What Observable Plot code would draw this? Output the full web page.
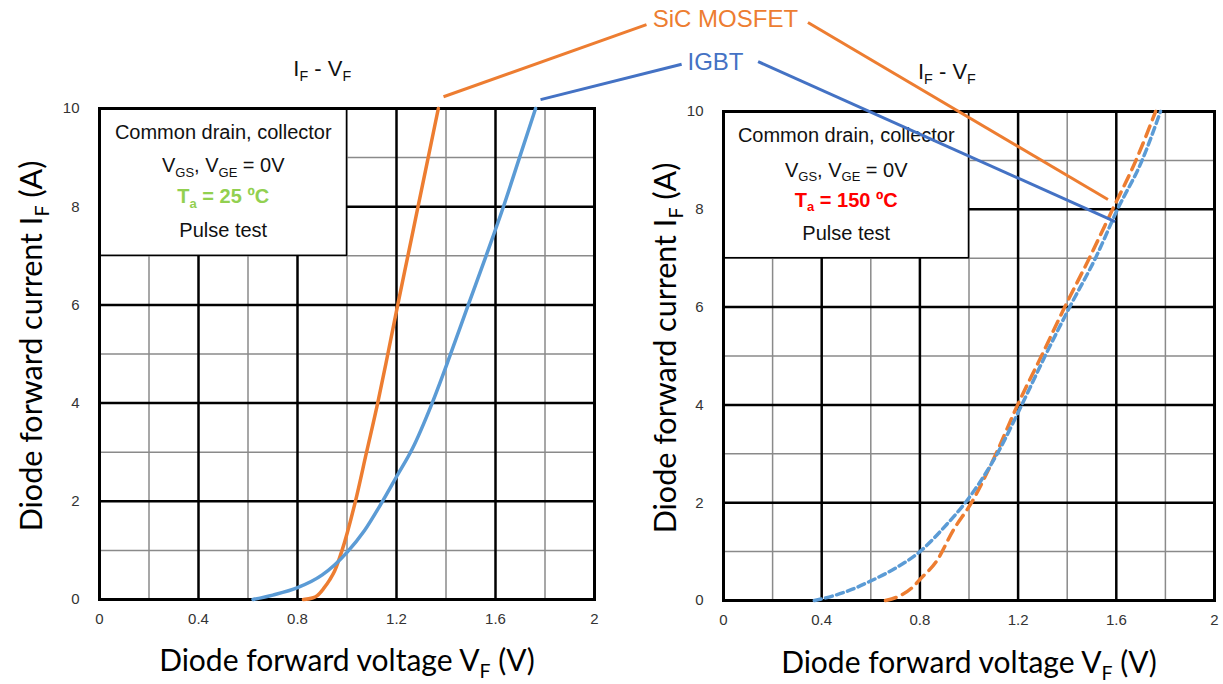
<!DOCTYPE html>
<html>
<head>
<meta charset="utf-8">
<script src="https://cdn.jsdelivr.net/npm/d3@7"></script>
<script src="https://cdn.jsdelivr.net/npm/@observablehq/plot@0.6"></script>
<style>
  body { margin: 0; background: #fff; }
  #wrap { position: relative; width: 1223px; height: 684px; overflow: hidden; background: #fff; }
  #wrap svg { position: absolute; top: 0; }
</style>
</head>
<body>
<div id="wrap"></div>
<script>
// ---------------- data ----------------
const xTicks = [0, 0.4, 0.8, 1.2, 1.6, 2];
const yTicks = [0, 2, 4, 6, 8, 10];
const majorX = [0.4, 0.8, 1.2, 1.6];
const minorX = [0.2, 0.6, 1.0, 1.4, 1.8];
const majorY = [2, 4, 6, 8];
const minorY = [1, 3, 5, 7, 9];

// Ta = 25 ºC
const vfSic25  = [0.824, 0.86, 0.88, 0.905, 0.93, 0.95, 0.98, 1.034, 1.079, 1.124, 1.165, 1.205, 1.246, 1.287, 1.328, 1.369];
const ifSic25  = [0, 0.03, 0.08, 0.22, 0.4, 0.58, 1.0, 2, 3, 4, 5, 6, 7, 8, 9, 10];
const vfIgbt25 = [0.62, 0.7, 0.8, 0.9, 1.0, 1.07, 1.14, 1.2, 1.265, 1.34, 1.415, 1.49, 1.562, 1.632, 1.697, 1.762];
const ifIgbt25 = [0, 0.09, 0.24, 0.5, 0.96, 1.4, 1.97, 2.5, 3.08, 3.95, 4.95, 6, 7, 8, 9, 10];

// Ta = 150 ºC
const vfSic150  = [0.66, 0.72, 0.77, 0.8, 0.87, 0.935, 1.01, 1.11, 1.198, 1.295, 1.39, 1.49, 1.585, 1.68, 1.76];
const ifSic150  = [0, 0.1, 0.27, 0.43, 0.82, 1.43, 2, 3, 4, 5, 6, 7, 8, 9, 10];
const vfIgbt150 = [0.37, 0.45, 0.52, 0.6, 0.7, 0.8, 0.91, 0.985, 1.115, 1.215, 1.31, 1.41, 1.515, 1.605, 1.705, 1.78];
const ifIgbt150 = [0, 0.1, 0.22, 0.4, 0.66, 1.0, 1.56, 2, 3, 4, 5, 6, 7, 8, 9, 10];

// texts
const titleText = "I_{F} - V_{F}";
const xLabel = "Diode forward voltage V_{F} (V)";
const yLabel = "Diode forward current I_{F} (A)";
const noteLines = ["Common drain, collector", "V_{GS}, V_{GE} = 0V", "Pulse test"];
const temp25 = "T_{a} = 25 ºC";
const temp150 = "T_{a} = 150 ºC";
const seriesNames = ["SiC MOSFET", "IGBT"];

// ---------------- styles / layout ----------------
const ORANGE = "#ED7D31", BLUE = "#5B9BD5", CALL_BLUE = "#4472C4";
const ARIAL = "'Liberation Sans', Arial, sans-serif";
const TITLEFONT = "Lato, 'Open Sans', sans-serif";

const toRows = (vs, is) => vs.map((v, k) => ({v, i: is[k]}));

function panel(cfg) {
  const marks = [
    Plot.ruleX(minorX, {stroke: "#8a8a8a", strokeWidth: 1.5}),
    Plot.ruleY(minorY, {stroke: "#8a8a8a", strokeWidth: 1.5}),
    Plot.ruleX(majorX, {stroke: "#000", strokeWidth: 2.5}),
    Plot.ruleY(majorY, {stroke: "#000", strokeWidth: 2.5}),
    Plot.rect([cfg.box], {x1: "x1", x2: "x2", y1: "y1", y2: "y2", fill: "white", stroke: "#000", strokeWidth: 1.5}),
    Plot.frame({stroke: "#000", strokeWidth: 3}),
    Plot.line(cfg.sic, {x: "v", y: "i", stroke: ORANGE, strokeWidth: 3.5, curve: "monotone-x", strokeDasharray: cfg.dashSic}),
    Plot.line(cfg.igbt, {x: "v", y: "i", stroke: BLUE, strokeWidth: 3.5, curve: "monotone-x", strokeDasharray: cfg.dashIgbt}),
    Plot.text(noteLines, {x: cfg.noteX, y: (d, k) => cfg.noteY[k], text: d => d, fontSize: 20, fontFamily: ARIAL, fill: "#111"}),
    Plot.text([cfg.temp], {x: cfg.noteX, y: cfg.tempY, text: d => d, fontSize: 20, fontFamily: ARIAL, fontWeight: "bold", fill: cfg.tempColor}),
    Plot.text([titleText], {x: cfg.titleX, y: cfg.titleY, text: d => d, fontSize: 22, fontFamily: ARIAL, fill: "#111"}),
    Plot.text([xLabel], {frameAnchor: "bottom", dy: cfg.xLabelDy, text: d => d, fontSize: 30, fontFamily: TITLEFONT, fill: "#000", textAnchor: "middle", lineAnchor: "middle"}),
    Plot.text([yLabel], {frameAnchor: "left", rotate: -90, dx: cfg.yLabelDx, dy: -8, text: d => d, fontSize: 30.5, fontFamily: TITLEFONT, fill: "#000", textAnchor: "middle", lineAnchor: "middle"}),
    Plot.link(cfg.callouts, {x1: "x1", y1: "y1", x2: "x2", y2: "y2", stroke: "c", strokeWidth: 3, clip: false})
  ];
  if (cfg.labels) {
    marks.push(Plot.text(cfg.labels, {x: "x", y: "y", text: "t", fill: "c", fontSize: 24, fontFamily: ARIAL}));
  }
  return Plot.plot({
    width: cfg.width, height: 684,
    marginLeft: cfg.mL, marginRight: cfg.mR, marginTop: cfg.mT, marginBottom: cfg.mB,
    x: {domain: [0, 2], ticks: xTicks, tickSize: 0, tickPadding: 14, label: null, tickFormat: d => String(d)},
    y: {domain: [0, 10], ticks: yTicks, tickSize: 0, tickPadding: 20, label: null, tickFormat: d => String(d)},
    color: {type: "identity"},
    style: {background: "transparent", overflow: "visible", maxWidth: "none", fontFamily: ARIAL, fontSize: "15px", color: "#333"},
    marks
  });
}

const box = {x1: 0, x2: 1, y1: 7, y2: 10};

const left = panel({
  width: 611, mL: 99, mR: 17, mT: 108, mB: 85,
  sic: toRows(vfSic25, ifSic25), igbt: toRows(vfIgbt25, ifIgbt25),
  box, noteX: 0.5, noteY: [9.5, 8.83, 7.52], tempY: 8.2, temp: temp25, tempColor: "#92D050",
  titleX: 0.9, titleY: 10.8, xLabelDy: 62, yLabelDx: -67,
  callouts: [
    {x1: 1.39, y1: 10.24, x2: 2.21, y2: 11.71, c: ORANGE},
    {x1: 1.782, y1: 10.18, x2: 2.352, y2: 10.90, c: CALL_BLUE}
  ],
  labels: [
    {x: 2.529, y: 11.81, t: seriesNames[0], c: ORANGE},
    {x: 2.489, y: 10.94, t: seriesNames[1], c: CALL_BLUE}
  ]
});

const right = panel({
  width: 612, mL: 112, mR: 9, mT: 111, mB: 84,
  sic: toRows(vfSic150, ifSic150), igbt: toRows(vfIgbt150, ifIgbt150),
  dashSic: "11,7", dashIgbt: "7,4.5",
  box, noteX: 0.5, noteY: [9.5, 8.8, 7.5], tempY: 8.18, temp: temp150, tempColor: "#FF0000",
  titleX: 0.91, titleY: 10.8, xLabelDy: 63, yLabelDx: -57,
  callouts: [
    {x1: 0.344, y1: 11.82, x2: 1.566, y2: 8.20, c: ORANGE},
    {x1: 0.141, y1: 11.02, x2: 1.595, y2: 7.75, c: CALL_BLUE}
  ]
});

left.style.left = "0px";
right.style.left = "611px";
const wrap = document.getElementById("wrap");
wrap.appendChild(left);
wrap.appendChild(right);

// tick label size: any pure-number text
const tickSet = new Set([...xTicks, ...yTicks].map(String));
[left, right].forEach(svg => {
  svg.querySelectorAll("text").forEach(t => {
    if (tickSet.has(t.textContent.trim())) {
      t.setAttribute("font-size", "15");
      t.style.fontSize = "15px";
      t.style.fill = "#333";
    }
  });
});

// subscripts: "X_{sub}" -> tspans
function applySubs(svg) {
  svg.querySelectorAll("text").forEach(el => {
    const s = el.textContent;
    if (!s.includes("_{")) return;
    const fs = parseFloat(getComputedStyle(el).fontSize) || 16;
    const parts = s.split(/(_\{[^}]*\})/).filter(p => p.length);
    while (el.firstChild) el.removeChild(el.firstChild);
    let shifted = false;
    parts.forEach(p => {
      const t = document.createElementNS("http://www.w3.org/2000/svg", "tspan");
      if (p.startsWith("_{")) {
        t.textContent = p.slice(2, -1);
        t.setAttribute("font-size", (fs * 0.65).toFixed(1));
        t.setAttribute("dy", (fs * 0.22).toFixed(1));
        shifted = true;
      } else {
        t.textContent = p;
        if (shifted) { t.setAttribute("dy", (-fs * 0.22).toFixed(1)); shifted = false; }
      }
      el.appendChild(t);
    });
  });
}
applySubs(left);
applySubs(right);
</script>
</body>
</html>
